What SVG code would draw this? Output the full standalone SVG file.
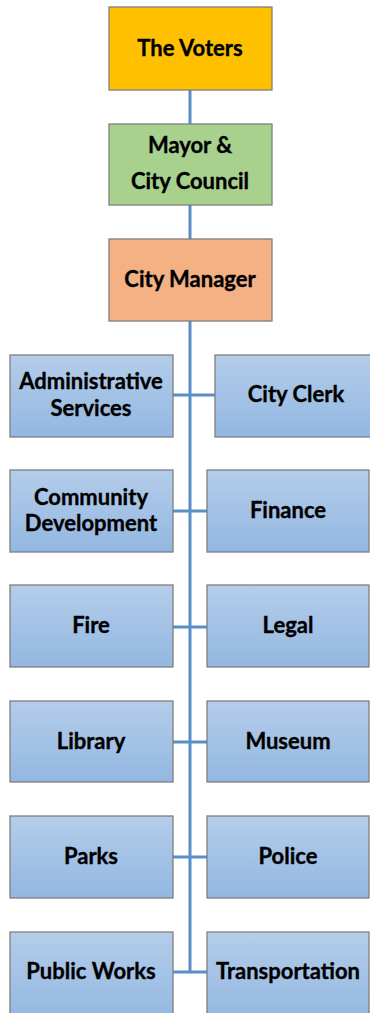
<svg xmlns="http://www.w3.org/2000/svg" width="370" height="1013" viewBox="0 0 370 1013">
<defs>
<linearGradient id="blue" x1="0" y1="0" x2="0" y2="1">
<stop offset="0" stop-color="#b4cdea"/>
<stop offset="1" stop-color="#93b7e1"/>
</linearGradient>
<style>
.box{stroke:#7f7f7f;stroke-width:1.3}
.dept{fill:url(#blue)}
text{font-family:Lato,"Open Sans","Liberation Sans",sans-serif;font-weight:bold;font-size:22px;fill:#000;stroke:#000;stroke-width:0.35;text-anchor:middle}
.conn{stroke:#5a8ec6;stroke-width:3;fill:none}
</style>
</defs>
<rect width="370" height="1013" fill="#fff"/>
<g id="connectors">
<line class="conn" x1="190" y1="90" x2="190" y2="972"/>
<line class="conn" x1="173" y1="395" x2="215" y2="395"/>
<line class="conn" x1="173" y1="511" x2="207" y2="511"/>
<line class="conn" x1="173" y1="627" x2="207" y2="627"/>
<line class="conn" x1="173" y1="742" x2="207" y2="742"/>
<line class="conn" x1="173" y1="857" x2="207" y2="857"/>
<line class="conn" x1="173" y1="972" x2="207" y2="972"/>
</g>
<g id="voters"><rect class="box" x="109" y="7" width="163" height="83" fill="#ffc000"/><text x="190" y="56">The Voters</text></g>
<g id="mayor"><rect class="box" x="109" y="124" width="163" height="81" fill="#a9d18e"/><text x="190" y="153">Mayor &amp;</text><text x="190" y="189">City Council</text></g>
<g id="manager"><rect class="box" x="109" y="239" width="163" height="82" fill="#f4b183"/><text x="190" y="287">City Manager</text></g>
<g id="admin"><rect class="box dept" x="10" y="355" width="163" height="82"/><text x="91" y="389">Administrative</text><text x="91" y="416">Services</text></g>
<g id="clerk"><rect class="box dept" x="215" y="355" width="163" height="82"/><text x="296" y="402">City Clerk</text></g>
<g id="community"><rect class="box dept" x="10" y="470" width="163" height="82"/><text x="91" y="505">Community</text><text x="91" y="531">Development</text></g>
<g id="finance"><rect class="box dept" x="207" y="470" width="162" height="82"/><text x="288" y="518">Finance</text></g>
<g id="fire"><rect class="box dept" x="10" y="585" width="163" height="82"/><text x="91" y="633">Fire</text></g>
<g id="legal"><rect class="box dept" x="207" y="585" width="162" height="82"/><text x="288" y="633">Legal</text></g>
<g id="library"><rect class="box dept" x="10" y="701" width="163" height="81"/><text x="91" y="749">Library</text></g>
<g id="museum"><rect class="box dept" x="207" y="701" width="162" height="81"/><text x="288" y="749">Museum</text></g>
<g id="parks"><rect class="box dept" x="10" y="816" width="163" height="82"/><text x="91" y="864">Parks</text></g>
<g id="police"><rect class="box dept" x="207" y="816" width="162" height="82"/><text x="288" y="864">Police</text></g>
<g id="publicworks"><rect class="box dept" x="10" y="932" width="163" height="90"/><text x="91" y="979">Public Works</text></g>
<g id="transportation"><rect class="box dept" x="207" y="932" width="162" height="90"/><text x="288" y="979">Transportation</text></g>
</svg>
